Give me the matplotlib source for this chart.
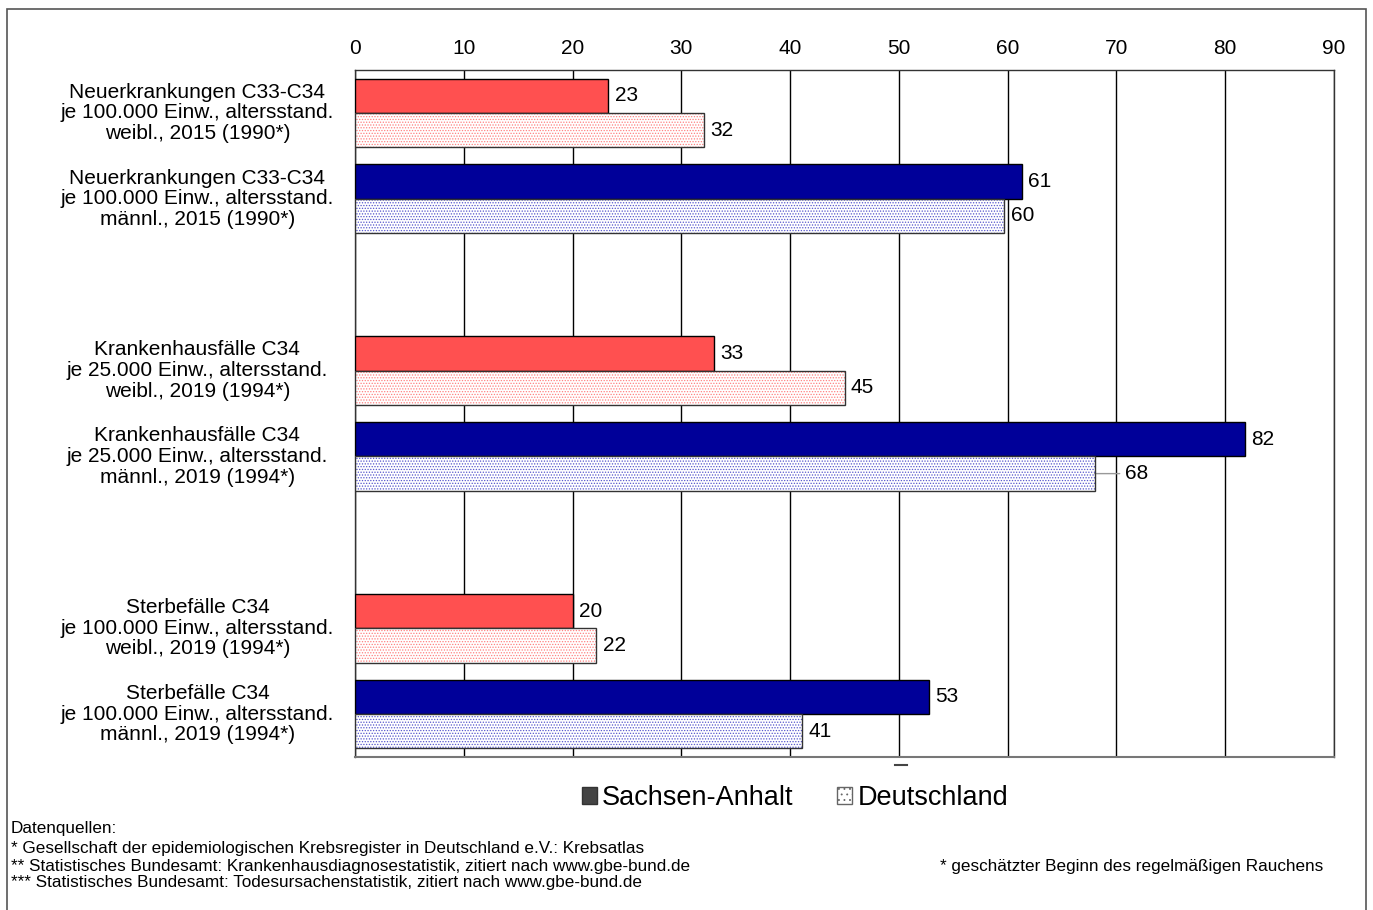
import matplotlib
matplotlib.use('Agg')
import matplotlib.pyplot as plt
from matplotlib.patches import Patch, Rectangle
from matplotlib.lines import Line2D
import numpy as np

plt.rcParams['font.family'] = ['Liberation Sans', 'DejaVu Sans']
plt.rcParams['hatch.linewidth'] = 0.6

# data (blank slots separate the three topics)
labels = ['Neuerkrankungen C33-C34\nje 100.000 Einw., altersstand.\nweibl., 2015 (1990*)',
          'Neuerkrankungen C33-C34\nje 100.000 Einw., altersstand.\nmännl., 2015 (1990*)',
          '',
          'Krankenhausfälle C34\nje 25.000 Einw., altersstand.\nweibl., 2019 (1994*)',
          'Krankenhausfälle C34\nje 25.000 Einw., altersstand.\nmännl., 2019 (1994*)',
          '',
          'Sterbefälle C34\nje 100.000 Einw., altersstand.\nweibl., 2019 (1994*)',
          'Sterbefälle C34\nje 100.000 Einw., altersstand.\nmännl., 2019 (1994*)']
sachsen = [23.3, 61.3, None, 33.0, 81.8, None, 20.0, 52.8]
deutschland = [32.1, 59.7, None, 45.0, 68.0, None, 22.2, 41.1]
sex = ['w', 'm', None, 'w', 'm', None, 'w', 'm']
xticks = [0, 10, 20, 30, 40, 50, 60, 70, 80, 90]

col_full = {'w': '#FF5050', 'm': '#000099'}
col_dots = {'w': '#FF8080', 'm': '#5555CC'}

fig = plt.figure(figsize=(13.73, 9.10), dpi=100)
ax = fig.add_axes([355/1373, 1-757/910, 979/1373, 687/910])

h = 0.4
for i in range(len(labels)):
    if sachsen[i] is None:
        continue
    s = sex[i]
    ax.barh(i - h/2, sachsen[i], height=h, color=col_full[s], edgecolor='black', linewidth=1, zorder=3)
    ax.barh(i + h/2, deutschland[i], height=h, color='white', hatch='......',
            edgecolor=col_dots[s], linewidth=0, zorder=3)
    ax.barh(i + h/2, deutschland[i], height=h, fill=False, edgecolor='#333333', linewidth=1, zorder=4)
    ax.annotate(f'{sachsen[i]:.0f}', (sachsen[i], i - h/2), xytext=(4.5, 0), textcoords='offset points',
                va='center', ha='left', fontsize=15)
    if i == 4:
        ax.annotate(f'{deutschland[i]:.0f}', (deutschland[i], i + h/2), xytext=(22, 0),
                    textcoords='offset points', va='center', ha='left', fontsize=15,
                    arrowprops=dict(arrowstyle='-', color='#999999', lw=1, shrinkA=2, shrinkB=0))
    else:
        ax.annotate(f'{deutschland[i]:.0f}', (deutschland[i], i + h/2), xytext=(4.5, 0), textcoords='offset points',
                    va='center', ha='left', fontsize=15)
    ax.text(-0.161, i, labels[i], transform=ax.get_yaxis_transform(), ha='center', va='center',
            multialignment='center', fontsize=15, linespacing=1.12)

ax.set_xlim(0, 90)
ax.set_ylim(7.5, -0.5)
ax.set_xticks(xticks)
ax.xaxis.tick_top()
ax.tick_params(axis='x', length=0, pad=9, labelsize=15)
ax.set_yticks([])
ax.grid(axis='x', color='black', linewidth=1)
ax.set_axisbelow(True)
for sp in ax.spines.values():
    sp.set_color('#333333')
    sp.set_linewidth(1)
ax.spines['bottom'].set_color('#777777')
ax.spines['bottom'].set_linewidth(1.5)

handles = [Patch(facecolor='#444444', edgecolor='#333333'),
           Patch(facecolor='white', edgecolor='#666666', hatch='...')]
fig.legend(handles, ['Sachsen-Anhalt', 'Deutschland'], loc='center', bbox_to_anchor=(0.579, 1-798/910),
           ncol=2, frameon=False, fontsize=19.5, handlelength=0.55, handleheight=0.55,
           handletextpad=0.2, columnspacing=1.6)

foot = ['Datenquellen:',
        '* Gesellschaft der epidemiologischen Krebsregister in Deutschland e.V.: Krebsatlas',
        '** Statistisches Bundesamt: Krankenhausdiagnosestatistik, zitiert nach www.gbe-bund.de',
        '*** Statistisches Bundesamt: Todesursachenstatistik, zitiert nach www.gbe-bund.de']
ys = [829, 849, 866, 883]
for t, y in zip(foot, ys):
    fig.text(11/1373, 1-y/910, t, fontsize=12.3, va='center', ha='left')
fig.text(1323/1373, 1-866/910, '* geschätzter Beginn des regelmäßigen Rauchens', fontsize=12.3,
         va='center', ha='right')

# small stray dash below the axis, as in the original
fig.add_artist(Line2D([895/1373, 907/1373], [1-765/910, 1-765/910], color='#444444', linewidth=1.5))

fig.add_artist(Rectangle((7/1373, -0.01), 1359/1373, 1-9/910+0.01, transform=fig.transFigure,
                         fill=False, edgecolor='#555555', linewidth=1.2))

fig.savefig('out.png', dpi=100)
